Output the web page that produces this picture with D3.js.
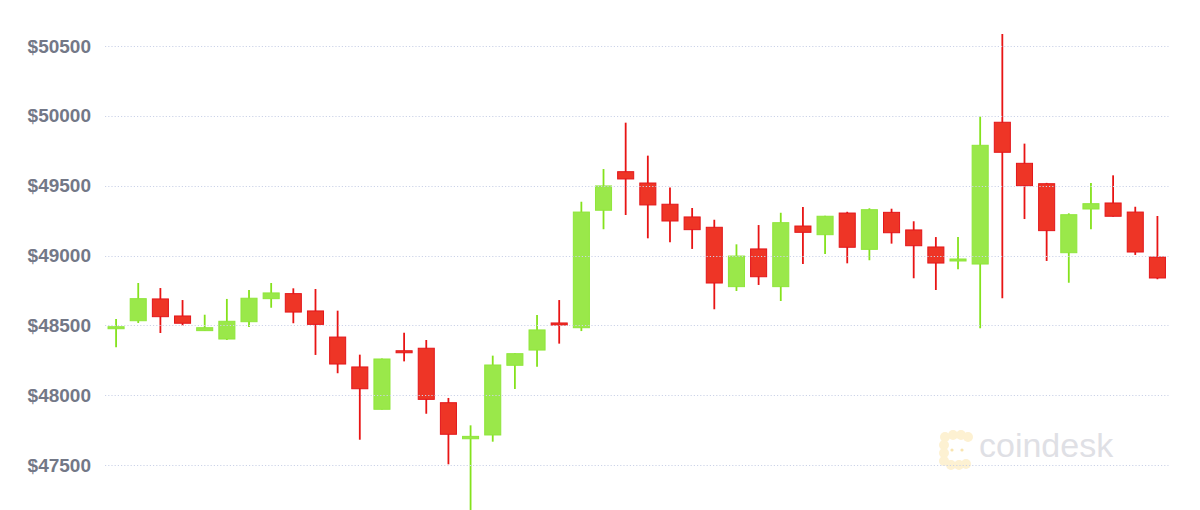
<!DOCTYPE html>
<html>
<head>
<meta charset="utf-8">
<script src="https://cdn.jsdelivr.net/npm/d3@7"></script>
<style>
html,body{margin:0;padding:0;background:#fff;}
svg{display:block;}
</style>
</head>
<body>
<svg id="chart" width="1200" height="510"></svg>
<script>
// Hourly BTC/USD candles (48 periods)
const open  = [48480,48533,48689,48567,48462,48402,48526,48691,48727,48603,48416,48202,47899,48318,48336,47946,47688,47715,48214,48323,48517,48483,49324,49600,49519,49367,49276,49202,48777,49047,48777,49211,49149,49304,49044,49309,49183,49061,48966,48939,49954,49660,49514,49020,49333,49376,49311,48989];
const high  = [48545,48803,48767,48681,48576,48689,48753,48803,48765,48760,48605,48290,48262,48447,48395,47980,47784,48283,48300,48574,48681,49385,49619,49951,49715,49486,49340,49256,49080,49218,49306,49347,49285,49313,49338,49335,49245,49132,49132,49994,50586,49801,49520,49302,49519,49574,49349,49283];
const low   = [48343,48517,48445,48497,48460,48395,48488,48626,48515,48288,48157,47681,47897,48242,47867,47505,47178,47667,48044,48204,48369,48459,49188,49290,49123,49095,49047,48615,48746,48789,48674,48939,49011,48944,48966,49085,48837,48753,48901,48479,48694,49261,48961,48805,49188,49278,49004,48830];
const close = [48490,48691,48562,48515,48483,48529,48694,48732,48595,48507,48223,48046,48259,48307,47970,47720,47705,48216,48297,48467,48502,49311,49498,49548,49362,49247,49185,48803,48996,48848,49235,49166,49281,49059,49328,49163,49070,48946,48975,49789,49739,49500,49178,49292,49371,49281,49025,48839];
const tickValues = [47500,48000,48500,49000,49500,50000,50500];
const tickLabels = ["$47500","$48000","$48500","$49000","$49500","$50000","$50500"];

(function(){
const svg = d3.select("#chart");
const mLeft = 105, mRight = 1168.5, mTop = 46, mBottom = 465;

const idx = d3.range(open.length);
const x = d3.scaleBand().domain(idx).range([mLeft, mRight]).paddingInner(0.23).paddingOuter(0.115);
const y = d3.scaleLinear().domain([47500, 50500]).range([mBottom, mTop]);

const green = {fill:"#9ae84a", stroke:"#8fe63a", wick:"#84e21c"};
const red   = {fill:"#ee3526", stroke:"#e3161a", wick:"#e81414"};

// watermark logo
const logo = svg.append("g").attr("class","watermark");
const blobs = [[945,437],[953,435],[961,435],[968,437],[944,445],[944,453],[944,461],[951,465],[959,465],[966,464],[952,450],[962,450]];
logo.selectAll("circle").data(blobs).join("circle")
  .attr("cx", d => d[0]).attr("cy", d => d[1]).attr("r", (d,i)=> i>=10 ? 1.6 : 5)
  .attr("fill", (d,i)=> i>=10 ? "#f8e4b0" : "#fdf1d2");
logo.append("text").attr("x", 979).attr("y", 457)
  .attr("font-family","'Liberation Sans', Arial, sans-serif")
  .attr("font-size", 34).attr("fill","#dfe0e5").text("coindesk");

// candles
const g = svg.append("g");
const cx = i => x(i) + x.bandwidth()/2;
const col = i => close[i] >= open[i] ? green : red;

g.selectAll("line.wick").data(idx).join("line")
  .attr("class","wick")
  .attr("x1", cx).attr("x2", cx)
  .attr("y1", i => y(high[i])).attr("y2", i => y(low[i]))
  .attr("stroke", i => col(i).wick).attr("stroke-width", 1.8);

g.selectAll("rect.body").data(idx).join("rect")
  .attr("class","body")
  .attr("x", i => x(i) + 0.5)
  .attr("width", x.bandwidth() - 1)
  .attr("y", i => y(Math.max(open[i], close[i])))
  .attr("height", i => Math.max(2, Math.abs(y(open[i]) - y(close[i]))))
  .attr("fill", i => col(i).fill)
  .attr("stroke", i => col(i).stroke).attr("stroke-width", 1);

// gridlines (drawn over candles)
svg.append("g").selectAll("line").data(tickValues).join("line")
  .attr("x1", mLeft).attr("x2", mRight)
  .attr("y1", d => Math.round(y(d)) + 0.5).attr("y2", d => Math.round(y(d)) + 0.5)
  .attr("stroke", "#ccd3e8").attr("stroke-width", 1)
  .attr("stroke-dasharray", "1.2,2");

// y axis labels
svg.append("g").selectAll("text").data(tickValues).join("text")
  .attr("x", 91).attr("y", d => y(d))
  .attr("dy", "0.35em")
  .attr("text-anchor", "end")
  .attr("font-family", "'Liberation Sans', Arial, Helvetica, sans-serif")
  .attr("font-weight", "bold")
  .attr("font-size", 19)
  .attr("fill", "#737887")
  .text((d,i) => tickLabels[i]);
})();
</script>
</body>
</html>
